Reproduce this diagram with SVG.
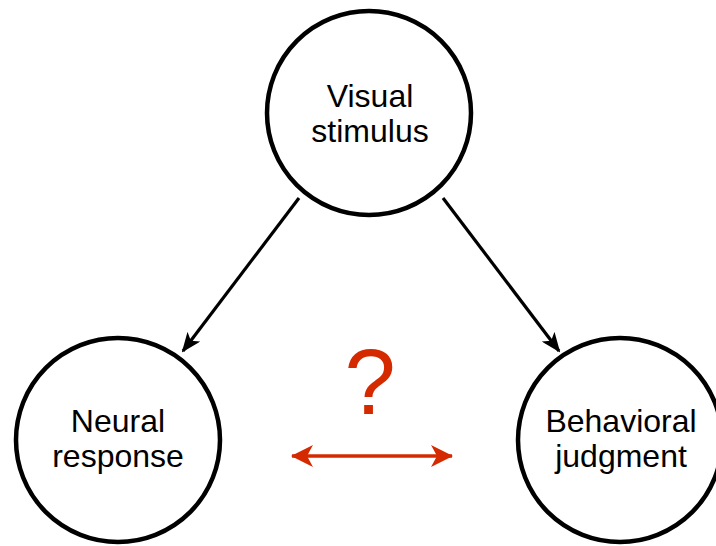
<svg xmlns="http://www.w3.org/2000/svg" width="716" height="546" viewBox="0 0 716 546">
<style>
.node{fill:#fff;stroke:#000;stroke-width:4.5}
.lbl{font-family:"Liberation Sans",Arial,sans-serif;font-size:32px;fill:#000;text-anchor:middle}
.edge{stroke:#000;stroke-width:3.2;fill:none}
.red{stroke:#d52a00;stroke-width:3.5;fill:none}
</style>
<defs>
<marker id="ah" viewBox="0 0 20 16" refX="18" refY="8" markerWidth="20" markerHeight="16" markerUnits="userSpaceOnUse" orient="auto">
<path d="M0,0 L20,8 L0,16 L5,8 Z" fill="#000"/>
</marker>
<marker id="rh" viewBox="0 0 22 22" refX="21" refY="11" markerWidth="22" markerHeight="22" markerUnits="userSpaceOnUse" orient="auto-start-reverse">
<path d="M0,0 L22,11 L0,22 L6,11 Z" fill="#d52a00"/>
</marker>
</defs>
<rect width="716" height="546" fill="#fff"/>
<g id="connectors">
<line class="edge" x1="299" y1="198" x2="183" y2="351" marker-end="url(#ah)"/>
<line class="edge" x1="443" y1="198" x2="559" y2="351" marker-end="url(#ah)"/>
<line class="red" x1="292" y1="456" x2="452" y2="456" marker-start="url(#rh)" marker-end="url(#rh)"/>
</g>
<g id="visual">
<circle class="node" cx="369" cy="113" r="102"/>
<text class="lbl" x="370" y="107">Visual</text>
<text class="lbl" x="370" y="142">stimulus</text>
</g>
<g id="neural">
<circle class="node" cx="118" cy="440" r="102"/>
<text class="lbl" x="118" y="432">Neural</text>
<text class="lbl" x="118" y="467">response</text>
</g>
<g id="behavioral">
<circle class="node" cx="620" cy="440" r="102"/>
<text class="lbl" x="621" y="432">Behavioral</text>
<text class="lbl" x="621" y="467">judgment</text>
</g>
<text x="370" y="414" font-family="'Liberation Sans',Arial,sans-serif" font-size="92" fill="#d52a00" text-anchor="middle">?</text>
</svg>
